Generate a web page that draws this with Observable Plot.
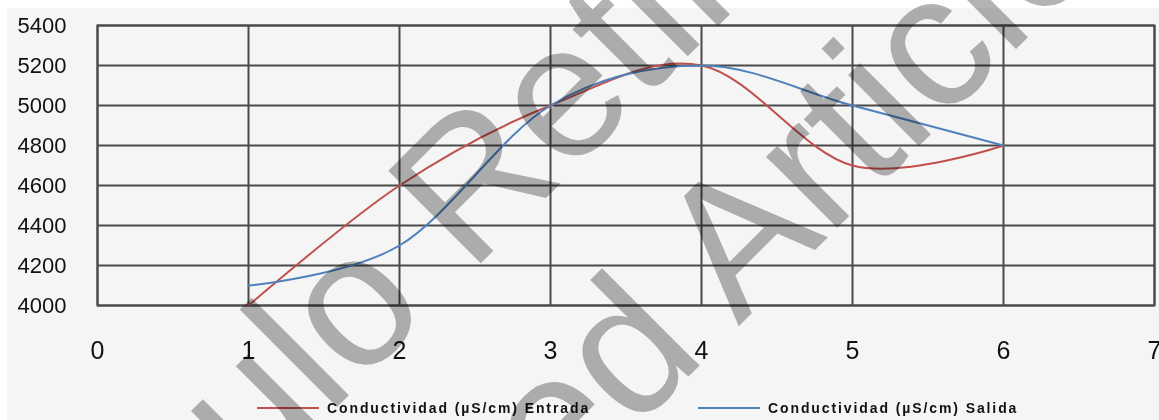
<!DOCTYPE html>
<html>
<head>
<meta charset="utf-8">
<script src="https://cdn.jsdelivr.net/npm/d3@7"></script>
<script src="https://cdn.jsdelivr.net/npm/@observablehq/plot@0.6"></script>
<style>
  html, body { margin: 0; padding: 0; background: #ffffff; }
  #page { position: relative; width: 1159px; height: 420px; overflow: hidden; font-family: "Liberation Sans", Arial, sans-serif; }
  #bg { position: absolute; left: 7px; top: 8px; right: 0; bottom: 0; background: #f5f5f5; }
  #chart { position: absolute; left: 0; top: 0; }
  #legend { position: absolute; left: 0; top: 400px; width: 1159px; height: 18px; }
  .item { position: absolute; top: 0; display: flex; align-items: center; font-weight: bold; font-size: 14px; letter-spacing: 1.9px; color: #111; white-space: nowrap; }
  .swatch { display: inline-block; width: 62px; height: 2px; margin-right: 8px; }
  #stamp { position: absolute; left: 0; top: 0; mix-blend-mode: multiply; pointer-events: none; }
</style>
</head>
<body>
<div id="page">
  <div id="bg"></div>
  <div id="chart"></div>
  <div id="legend"></div>
  <svg id="stamp" width="1159" height="420"></svg>
</div>
<script>
// Conductivity readings at the inlet and outlet, samples 1–6
const samples = [1, 2, 3, 4, 5, 6];
const entrada = [4000, 4600, 5000, 5200, 4700, 4800];
const salida = [4100, 4300, 5000, 5200, 5000, 4800];

const seriesNames = ["Conductividad (µS/cm) Entrada", "Conductividad (µS/cm) Salida"];
const seriesColors = ["#c0504d", "#4f81bd"];

const xTicks = [0, 1, 2, 3, 4, 5, 6, 7];
const yTicks = [4000, 4200, 4400, 4600, 4800, 5000, 5200, 5400];

const stampLines = ["Artículo Retirado", "Retracted Article"];

// long-format table for the line marks
const rows = [
  ...samples.map((s, i) => ({x: s, y: entrada[i], serie: seriesNames[0]})),
  ...samples.map((s, i) => ({x: s, y: salida[i], serie: seriesNames[1]}))
];

const gridColor = "#4a4a4a";

const chart = Plot.plot({
  width: 1159,
  height: 380,
  marginLeft: 97,
  marginRight: 5,
  marginTop: 25,
  marginBottom: 75,
  style: {background: "transparent", fontFamily: "'Liberation Sans', Arial, sans-serif", color: "#111", overflow: "visible"},
  x: {domain: [0, 7], ticks: xTicks},
  y: {domain: [4000, 5400], ticks: yTicks},
  color: {domain: seriesNames, range: seriesColors},
  marks: [
    Plot.gridX(xTicks, {stroke: gridColor, strokeOpacity: 1, strokeWidth: 2}),
    Plot.gridY(yTicks, {stroke: gridColor, strokeOpacity: 1, strokeWidth: 2}),
    Plot.frame({stroke: gridColor, strokeWidth: 2}),
    Plot.line(rows, {x: "x", y: "y", z: "serie", stroke: "serie", strokeWidth: 2, curve: "cardinal", tension: 0}),
    Plot.axisX(xTicks, {tickSize: 0, tickPadding: 36, fontSize: 25, label: null, tickFormat: d => String(d)}),
    Plot.axisY(yTicks, {tickSize: 0, tickPadding: 31, fontSize: 22, label: null, tickFormat: d => String(d)})
  ]
});
document.getElementById("chart").appendChild(chart);

// legend below the plot
const legend = document.getElementById("legend");
const legendLeft = [257, 698];
seriesNames.forEach((name, i) => {
  const item = document.createElement("div");
  item.className = "item";
  item.style.left = legendLeft[i] + "px";
  const sw = document.createElement("span");
  sw.className = "swatch";
  sw.style.background = seriesColors[i];
  item.appendChild(sw);
  item.appendChild(document.createTextNode(name));
  legend.appendChild(item);
});

// diagonal retraction stamp across the figure
const stamp = d3.select("#stamp");
const stampOrigins = [[-23, 767], [126, 939]];
stampLines.forEach((t, i) => {
  stamp.append("text")
    .attr("transform", `translate(${stampOrigins[i][0]},${stampOrigins[i][1]}) rotate(-45)`)
    .attr("font-family", "'Liberation Sans', Arial, sans-serif")
    .attr("font-size", 190)
    .attr("fill", "#b3b3b3")
    .text(t);
});
</script>
</body>
</html>
